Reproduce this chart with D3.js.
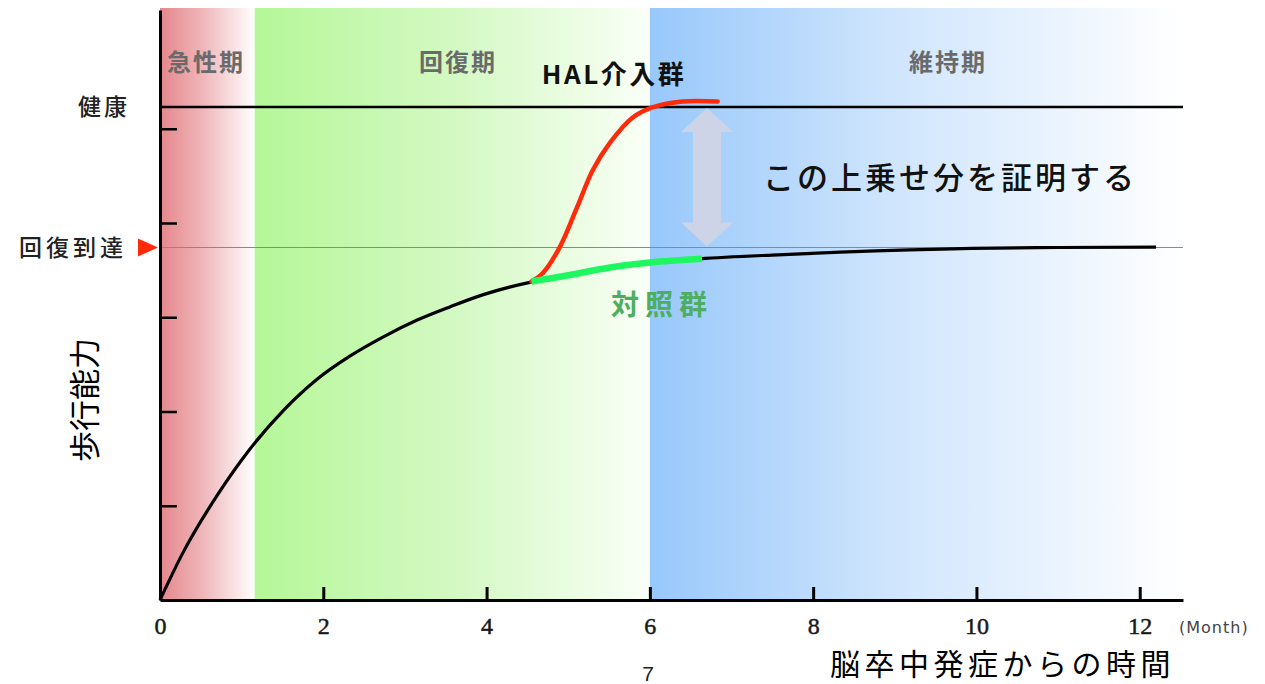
<!DOCTYPE html>
<html>
<head>
<meta charset="utf-8">
<script src="https://cdn.jsdelivr.net/npm/d3@7"></script>
<style>
  html, body { margin: 0; padding: 0; background: #fff; }
  svg { display: block; }
  .jp { font-family: "Noto Sans CJK JP", "Noto Sans", sans-serif; }
</style>
</head>
<body>
<svg id="chart" width="1265" height="684"></svg>
<script>
// Months since stroke onset
const xTicks = [0, 2, 4, 6, 8, 10, 12];
const yTicks = [1, 2, 3, 4, 5];

// Phases (start / end month)
const phaseNames = ["急性期", "回復期", "維持期"];
const phaseStart = [0, 1.16, 6];
const phaseEnd = [1.16, 6, 12.53];

// Reference levels of walking ability
const levelHealthy = 5.23;
const levelRecovered = 3.74;

// Natural recovery course (control)
const baseX = [0, 0.28, 0.7, 1.1, 1.51, 1.92, 2.33, 2.73, 3.15, 3.55, 3.96, 4.53, 5.0, 5.39, 6.0, 6.61, 7.5, 8.33, 9.95, 11.0, 12.2];
const baseY = [0, 0.50, 1.11, 1.60, 2.01, 2.34, 2.59, 2.79, 2.97, 3.11, 3.24, 3.37, 3.44, 3.51, 3.58, 3.62, 3.66, 3.69, 3.73, 3.74, 3.745];

// Control group segment
const ctrlX = [4.55, 5.0, 5.39, 6.0, 6.64];
const ctrlY = [3.38, 3.445, 3.51, 3.58, 3.62];

// HAL intervention group
const halX = [4.55, 4.69, 4.90, 5.11, 5.30, 5.51, 5.79, 6.04, 6.40, 6.83];
const halY = [3.38, 3.47, 3.75, 4.17, 4.56, 4.85, 5.12, 5.23, 5.29, 5.29];

const svg = d3.select("#chart");
const x = d3.scaleLinear().domain([0, 12.53]).range([160, 1183]);
const y = d3.scaleLinear().domain([0, 6.26]).range([600, 10]);

// Phase backgrounds
const defs = svg.append("defs");
const phaseStops = [
  [["0%", "#e5878c"], ["45%", "#efb6b9"], ["100%", "#ffffff"]],
  [["0%", "#b5f798"], ["50%", "#d3f9c2"], ["100%", "#fafff7"]],
  [["0%", "#98c8fb"], ["45%", "#cfe5fd"], ["100%", "#ffffff"]]
];
phaseStops.forEach((stops, i) => {
  const g = defs.append("linearGradient").attr("id", "phase" + i)
    .attr("x1", "0%").attr("x2", "100%").attr("y1", "0%").attr("y2", "0%");
  stops.forEach(s => g.append("stop").attr("offset", s[0]).attr("stop-color", s[1]));
});
const bandTop = 8;
svg.append("g").selectAll("rect").data(phaseNames).join("rect")
  .attr("x", (d, i) => x(phaseStart[i]))
  .attr("y", bandTop)
  .attr("width", (d, i) => x(phaseEnd[i]) - x(phaseStart[i]))
  .attr("height", y(0) - bandTop)
  .attr("fill", (d, i) => "url(#phase" + i + ")");

// Phase titles
const phaseLabelX = [206, 458, 948];
svg.append("g").selectAll("text").data(phaseNames).join("text")
  .attr("class", "jp")
  .attr("x", (d, i) => phaseLabelX[i])
  .attr("y", 71)
  .attr("text-anchor", "middle")
  .attr("font-size", 24)
  .attr("font-weight", 700)
  .attr("letter-spacing", 2)
  .attr("fill", "#6a6a6a")
  .text(d => d);

// Level lines
svg.append("line")
  .attr("x1", x(0)).attr("x2", x(12.53))
  .attr("y1", y(levelHealthy)).attr("y2", y(levelHealthy))
  .attr("stroke", "#000").attr("stroke-width", 2.5);
svg.append("line")
  .attr("x1", x(0)).attr("x2", x(12.53))
  .attr("y1", y(levelRecovered)).attr("y2", y(levelRecovered))
  .attr("stroke", "#8a8a8a").attr("stroke-width", 1.2);

// Axes
const xAxis = d3.axisBottom(x).tickValues(xTicks).tickSizeInner(-13).tickSizeOuter(0).tickPadding(17);
const gx = svg.append("g").attr("transform", `translate(0,${y(0)})`).call(xAxis);
gx.attr("font-family", "'Liberation Serif', serif");
gx.select(".domain").attr("stroke", "#000").attr("stroke-width", 3);
gx.selectAll(".tick line").attr("stroke", "#000").attr("stroke-width", 3);
gx.selectAll(".tick text")
  .style("font-family", "'Liberation Serif', serif")
  .attr("font-size", 24)
  .attr("stroke", "#1a1a1a").attr("stroke-width", 0.5)
  .attr("fill", "#1a1a1a");

const yAxis = d3.axisLeft(y).tickValues(yTicks).tickSizeInner(-17).tickSizeOuter(0).tickFormat("");
const gy = svg.append("g").attr("transform", `translate(${x(0)},0)`).call(yAxis);
gy.select(".domain").attr("stroke", "#000").attr("stroke-width", 3);
gy.selectAll(".tick line").attr("stroke", "#000").attr("stroke-width", 2.5);

// Curves
const line = d3.line().x(d => x(d[0])).y(d => y(d[1])).curve(d3.curveMonotoneX);
svg.append("path")
  .datum(baseX.map((v, i) => [v, baseY[i]]))
  .attr("d", line).attr("fill", "none")
  .attr("stroke", "#000").attr("stroke-width", 3.2);
svg.append("path")
  .datum(halX.map((v, i) => [v, halY[i]]))
  .attr("d", d3.line().x(d => x(d[0])).y(d => y(d[1])).curve(d3.curveCatmullRom.alpha(0.5)))
  .attr("fill", "none")
  .attr("stroke", "#ff2a0a").attr("stroke-width", 4.5).attr("stroke-linecap", "round");
svg.append("path")
  .datum(ctrlX.map((v, i) => [v, ctrlY[i]]))
  .attr("d", line).attr("fill", "none")
  .attr("stroke", "#1ff760").attr("stroke-width", 6.5);

// Double-headed arrow showing the gain between the two levels
const ax = x(6.7);
const aTop = y(levelHealthy) + 1;
const aBot = y(levelRecovered) - 1;
const headH = 24, headW = 26, shaftW = 14;
const arrowPts = [
  [ax, aTop], [ax + headW, aTop + headH], [ax + shaftW, aTop + headH],
  [ax + shaftW, aBot - headH], [ax + headW, aBot - headH], [ax, aBot],
  [ax - headW, aBot - headH], [ax - shaftW, aBot - headH],
  [ax - shaftW, aTop + headH], [ax - headW, aTop + headH]
];
svg.append("polygon")
  .attr("points", arrowPts.map(p => p.join(",")).join(" "))
  .attr("fill", "#ced4e8");

// Group labels
svg.append("text").attr("class", "jp")
  .attr("x", 614).attr("y", 84).attr("text-anchor", "middle")
  .attr("font-size", 26).attr("font-weight", 700).attr("letter-spacing", 2.5)
  .attr("fill", "#111").text("HAL介入群");
svg.append("text").attr("class", "jp")
  .attr("x", 662).attr("y", 315).attr("text-anchor", "middle")
  .attr("font-size", 28).attr("font-weight", 700).attr("letter-spacing", 6)
  .attr("fill", "#4cae5e").text("対照群");
svg.append("text").attr("class", "jp")
  .attr("x", 763).attr("y", 189)
  .attr("font-size", 31).attr("font-weight", 500).attr("letter-spacing", 3)
  .attr("fill", "#111").text("この上乗せ分を証明する");

// Level labels
svg.append("text").attr("class", "jp")
  .attr("x", 130).attr("y", y(levelHealthy) + 8).attr("text-anchor", "end")
  .attr("font-size", 23).attr("font-weight", 500).attr("letter-spacing", 3)
  .attr("fill", "#222").text("健康");
svg.append("text").attr("class", "jp")
  .attr("x", 127).attr("y", y(levelRecovered) + 8).attr("text-anchor", "end")
  .attr("font-size", 23).attr("font-weight", 500).attr("letter-spacing", 4)
  .attr("fill", "#222").text("回復到達");
svg.append("polygon")
  .attr("points", [[138, y(levelRecovered) - 9], [158, y(levelRecovered)], [138, y(levelRecovered) + 9]].map(p => p.join(",")).join(" "))
  .attr("fill", "#ff2a0a");

// Axis titles
svg.append("text").attr("class", "jp")
  .attr("transform", "translate(96,400) rotate(-90)")
  .attr("text-anchor", "middle")
  .attr("font-size", 31).attr("fill", "#000").text("歩行能力");
svg.append("text").attr("class", "jp")
  .attr("x", 830).attr("y", 675)
  .attr("font-size", 30).attr("letter-spacing", 4.5)
  .attr("fill", "#000").text("脳卒中発症からの時間");
svg.append("text")
  .attr("x", 1179).attr("y", 633)
  .attr("font-family", "'DejaVu Sans', sans-serif")
  .attr("font-size", 16).attr("letter-spacing", 1)
  .attr("fill", "#444").text("(Month)");

// Page number
svg.append("text")
  .attr("x", 648).attr("y", 681).attr("text-anchor", "middle")
  .attr("font-family", "'Liberation Sans', sans-serif")
  .attr("font-size", 21).attr("fill", "#222").text("7");
</script>
</body>
</html>
